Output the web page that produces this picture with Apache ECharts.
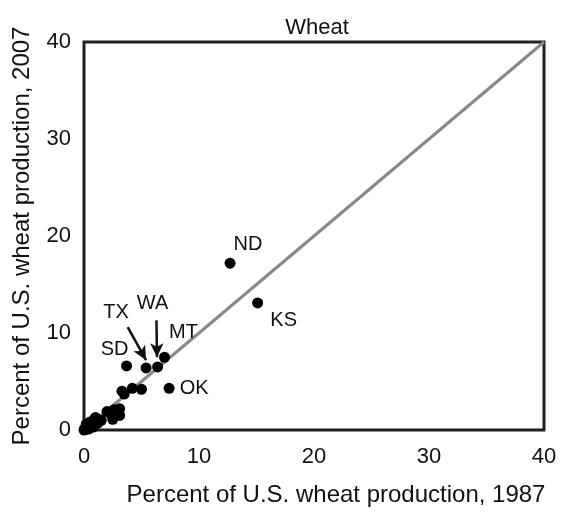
<!DOCTYPE html>
<html lang="en">
<head>
  <meta charset="UTF-8">
  <title>Wheat</title>
  <script src="https://cdn.jsdelivr.net/npm/echarts@6/dist/echarts.min.js"></script>
  <style>
    html, body { margin: 0; padding: 0; background: #fff; }
    #chart { width: 572px; height: 512px; }
  </style>
</head>
<body>
  <div id="chart"></div>
<script>
  // share of U.S. wheat production by state, 1987 vs 2007 (percent)
  const share1987 = [12.7, 15.1, 7.0, 6.4, 5.4, 3.7, 7.4, 3.3, 4.2, 5.0, 3.5,
    2.0, 2.6, 3.1, 3.1, 2.5, 2.3, 1.0, 0.8, 0.5, 0.2, 0.0, 1.2, 1.5,
    0.1, 0.3, 0.5, 0.2, 0.8, 0.05, 0.4, 0.6];
  const share2007 = [17.2, 13.1, 7.5, 6.5, 6.4, 6.6, 4.3, 4.0, 4.3, 4.2, 3.7,
    1.9, 2.1, 2.2, 1.5, 1.1, 1.7, 1.3, 1.0, 0.5, 0.2, 0.0, 0.7, 1.0,
    0.05, 0.4, 0.8, 0.6, 0.3, 0.1, 0.1, 0.3];
  const stateNames = ["ND", "KS", "MT", "WA", "TX", "SD", "OK"];
  // label offsets in px for the named states
  const labelOffsets = [[18, -19], [26, 18], [19, -25], [-5, -63], [-30, -55], [-12, -16], [25, 0]];
  const axisTicks = [0, 10, 20, 30, 40];

  // arrows for TX and WA, data units
  const arrows = [
    { from: [3.8, 10.6], to: [5.4, 7.2] },
    { from: [6.3, 11.3], to: [6.35, 7.5] }
  ];

  const font = "'Liberation Sans', Arial, sans-serif";

  const points = share1987.map((x, i) => {
    const item = { value: [x, share2007[i]] };
    if (i < stateNames.length) {
      item.label = {
        show: true,
        formatter: stateNames[i],
        position: "inside",
        offset: labelOffsets[i],
        color: "#111",
        fontSize: 20,
        fontFamily: font
      };
    }
    return item;
  });

  const chart = echarts.init(document.getElementById("chart"));
  chart.setOption({
    animation: false,
    title: {
      text: "Wheat",
      left: 312,
      textAlign: "center",
      top: 12,
      textStyle: { fontSize: 22, fontWeight: "normal", color: "#111", fontFamily: font }
    },
    grid: {
      left: 84, right: 28, top: 42, bottom: 77,
      show: true, borderColor: "#231f20", borderWidth: 3
    },
    xAxis: {
      type: "value", min: 0, max: 40, interval: 10,
      name: "Percent of U.S. wheat production, 1987",
      nameLocation: "middle", nameGap: 53,
      nameTextStyle: { fontSize: 24, color: "#111", fontFamily: font, padding: [0, 0, 0, 44] },
      axisLine: { show: false },
      axisTick: { show: false },
      splitLine: { show: false },
      axisLabel: {
        fontSize: 22, color: "#111", fontFamily: font, margin: 16,
        formatter: v => axisTicks.includes(v) ? String(v) : ""
      }
    },
    yAxis: {
      type: "value", min: 0, max: 40, interval: 10,
      name: "Percent of U.S. wheat production, 2007",
      nameLocation: "middle", nameGap: 50,
      nameTextStyle: { fontSize: 24, color: "#111", fontFamily: font },
      axisLine: { show: false },
      axisTick: { show: false },
      splitLine: { show: false },
      axisLabel: {
        fontSize: 22, color: "#111", fontFamily: font, margin: 13,
        formatter: v => axisTicks.includes(v) ? String(v) : ""
      }
    },
    series: [
      {
        type: "line",
        data: [[0, 0], [40, 40]],
        showSymbol: false,
        lineStyle: { color: "#888", width: 3 },
        z: 1,
        markLine: {
          silent: true,
          symbol: ["none", "arrow"],
          symbolSize: [10, 14],
          label: { show: false },
          lineStyle: { color: "#111", width: 2.5, type: "solid" },
          data: arrows.map(a => [{ coord: a.from }, { coord: a.to }])
        }
      },
      {
        type: "scatter",
        data: points,
        symbolSize: 11,
        itemStyle: { color: "#000", opacity: 1 },
        z: 3
      }
    ]
  });
</script>
</body>
</html>
